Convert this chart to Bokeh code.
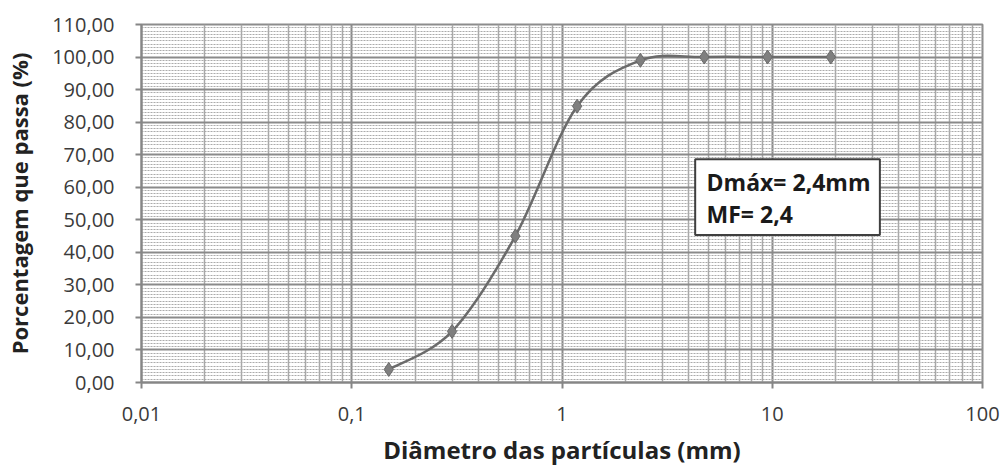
import numpy as np
from bokeh.plotting import figure
from bokeh.models import FixedTicker, BoxAnnotation, Label
from bokeh.embed import file_html
from bokeh.resources import INLINE

# ---- data ----
diametro_mm = [0.15, 0.3, 0.6, 1.18, 2.36, 4.75, 9.5, 19.0]
passa_pct = [4.0, 15.7, 45.0, 84.9, 99.0, 100.0, 100.0, 100.0]

x_ticks = [0.01, 0.1, 1, 10, 100]
x_tick_labels = ["0,01", "0,1", "1", "10", "100"]
x_minor_mult = [2, 3, 4, 5, 6, 7, 8, 9]

y_ticks = [0, 10, 20, 30, 40, 50, 60, 70, 80, 90, 100, 110]
y_tick_labels = ["0,00", "10,00", "20,00", "30,00", "40,00", "50,00", "60,00",
                 "70,00", "80,00", "90,00", "100,00", "110,00"]
y_minor_step = 1

annot_lines = ["Dmáx= 2,4mm", "MF= 2,4"]

FONT = "Open Sans"

p = figure(width=1004, height=469, x_axis_type="log",
           x_range=(0.01, 100), y_range=(0, 110),
           output_backend="svg", toolbar_location=None,
           min_border_left=141, min_border_right=22,
           min_border_top=24, min_border_bottom=87)

p.background_fill_color = "white"
p.border_fill_color = "white"
p.outline_line_color = "#8c8c8c"
p.outline_line_width = 2

x_minor = [d * m for d in x_ticks[:-1] for m in x_minor_mult]
y_minor = list(range(y_ticks[0], y_ticks[-1] + 1, y_minor_step))

xt = FixedTicker(ticks=x_ticks, minor_ticks=x_minor)
yt = FixedTicker(ticks=y_ticks, minor_ticks=y_minor)
p.xaxis.ticker = xt
p.yaxis.ticker = yt
p.xgrid.ticker = xt
p.ygrid.ticker = yt

p.xaxis.major_label_overrides = {t: l for t, l in zip(x_ticks, x_tick_labels)}
p.yaxis.major_label_overrides = {t: l for t, l in zip(y_ticks, y_tick_labels)}

# grids
p.xgrid.grid_line_color = "#8a8a8a"
p.xgrid.grid_line_width = 2
p.xgrid.minor_grid_line_color = "#a8a8a8"
p.xgrid.minor_grid_line_width = 1.5
p.ygrid.grid_line_color = "#8a8a8a"
p.ygrid.grid_line_width = 2
p.ygrid.minor_grid_line_color = "#ababab"
p.ygrid.minor_grid_line_width = 1
p.ygrid.minor_grid_line_dash = "2 1"

for ax in (p.xaxis, p.yaxis):
    ax.axis_line_color = "#868686"
    ax.axis_line_width = 2
    ax.major_tick_line_color = "#868686"
    ax.major_tick_line_width = 2
    ax.major_tick_out = 6
    ax.major_tick_in = 0
    ax.minor_tick_out = 0
    ax.minor_tick_in = 0
    ax.major_label_text_font = FONT
    ax.major_label_text_font_size = "20px"
    ax.major_label_text_color = "#3a3a3a"
    ax.axis_label_text_font = FONT
    ax.axis_label_text_font_style = "bold"
    ax.axis_label_text_color = "#222222"

p.yaxis.major_label_standoff = 21
p.xaxis.major_label_standoff = 18
p.yaxis.axis_label = "Porcentagem que passa (%)"
p.yaxis.axis_label_text_font_size = "22px"
p.yaxis.axis_label_standoff = 15
p.xaxis.axis_label = "Diâmetro das partículas (mm)"
p.xaxis.axis_label_text_font_size = "24px"
p.xaxis.axis_label_standoff = 9

# smooth curve (Excel-like Catmull-Rom Bezier, in log-x space)
lx = np.log10(np.array(diametro_mm, dtype=float))
ly = np.array(passa_pct, dtype=float)
n = len(lx)
x0s, y0s, x1s, y1s, c0x, c0y, c1x, c1y = [], [], [], [], [], [], [], []
for i in range(n - 1):
    i0 = max(i - 1, 0)
    i3 = min(i + 2, n - 1)
    ax_, ay_ = lx[i], ly[i]
    bx_, by_ = lx[i + 1], ly[i + 1]
    cx0 = ax_ + (lx[i + 1] - lx[i0]) / 6.0
    cy0 = ay_ + (ly[i + 1] - ly[i0]) / 6.0
    cx1 = bx_ - (lx[i3] - lx[i]) / 6.0
    cy1 = by_ - (ly[i3] - ly[i]) / 6.0
    x0s.append(10 ** ax_); y0s.append(ay_)
    x1s.append(10 ** bx_); y1s.append(by_)
    c0x.append(10 ** cx0); c0y.append(cy0)
    c1x.append(10 ** cx1); c1y.append(cy1)

p.bezier(x0=x0s, y0=y0s, x1=x1s, y1=y1s, cx0=c0x, cy0=c0y, cx1=c1x, cy1=c1y,
         line_color="#6b6b6b", line_width=2.5)

p.scatter(diametro_mm, passa_pct, marker="diamond", size=14,
          fill_color="#7f7f7f", line_color="#6a6a6a", line_width=1)

# annotation box
box = BoxAnnotation(left=4.3, right=32.5, bottom=45.3, top=68.6,
                    fill_color="white", fill_alpha=1.0,
                    line_color="#3f3f3f", line_width=2, line_alpha=1.0)
p.add_layout(box)
for txt, yy in zip(annot_lines, [61.7, 51.8]):
    p.add_layout(Label(x=4.87, y=yy, text=txt, text_baseline="middle",
                       text_font=FONT, text_font_style="bold",
                       text_font_size="23px", text_color="#1a1a1a"))

open("out.html", "w").write(file_html(p, INLINE))
